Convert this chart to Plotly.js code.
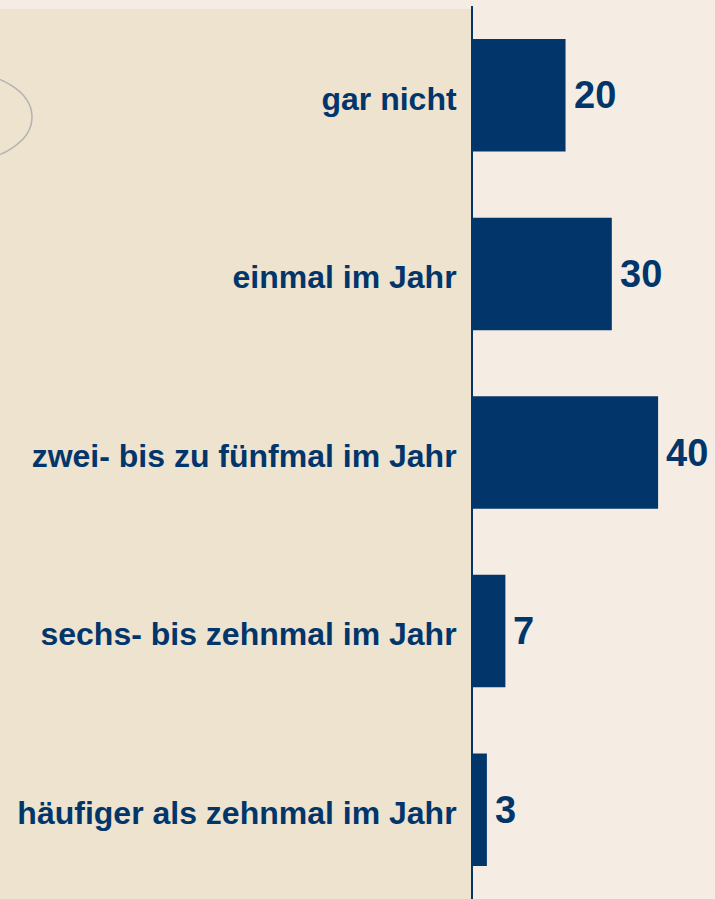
<!DOCTYPE html>
<html>
<head>
<meta charset="utf-8">
<script src="https://cdn.plot.ly/plotly-3.0.1.min.js"></script>
<style>
  html, body { margin: 0; padding: 0; background: #F5EDE3; }
  #chart { width: 715px; height: 899px; }
</style>
</head>
<body>
<div id="chart"></div>
<script>
const categories = [
  "gar nicht",
  "einmal im Jahr",
  "zwei- bis zu fünfmal im Jahr",
  "sechs- bis zehnmal im Jahr",
  "häufiger als zehnmal im Jahr"
];
const values = [20, 30, 40, 7, 3];
const valueLabels = ["20", "30", "40", "7", "3"];

const W = 715, H = 899;
const M = { l: 473, r: 0, t: 6, b: 0 };
const pw = W - M.l - M.r, ph = H - M.t - M.b;
const px2paperX = x => (x - M.l) / pw;
const px2paperY = y => 1 - (y - M.t) / ph;

const navy = "#02366B";
const font = "'Liberation Sans', Arial, Helvetica, sans-serif";

const trace = {
  type: "bar",
  orientation: "h",
  y: categories,
  x: values,
  marker: { color: navy, line: { width: 0 } },
  width: 0.63,
  hoverinfo: "none"
};

const annotations = values.map((v, i) => ({
  x: v, y: categories[i], xref: "x", yref: "y",
  text: valueLabels[i], showarrow: false,
  xanchor: "left", yanchor: "middle", xshift: 6,
  font: { family: font, size: 38, color: navy, weight: "bold" }
}));

const shapes = [
  {
    type: "rect", xref: "paper", yref: "paper", layer: "below",
    x0: px2paperX(0), x1: px2paperX(472), y0: px2paperY(H + 5), y1: px2paperY(9),
    fillcolor: "#EDE3CE", line: { width: 0 }
  },
  {
    type: "circle", xref: "paper", yref: "paper", layer: "above",
    x0: px2paperX(-112), x1: px2paperX(32), y0: px2paperY(162), y1: px2paperY(72),
    fillcolor: "rgba(0,0,0,0)", line: { color: "#B3B3B3", width: 1.5 }
  }
];

const layout = {
  width: W, height: H,
  margin: M,
  paper_bgcolor: "#F5EDE3",
  plot_bgcolor: "rgba(0,0,0,0)",
  showlegend: false,
  xaxis: {
    range: [0, 52.3],
    visible: false,
    fixedrange: true
  },
  yaxis: {
    type: "category",
    autorange: "reversed",
    showline: true, linecolor: navy, linewidth: 2,
    showgrid: false, zeroline: false,
    ticks: "", ticklabelstandoff: 8, ticklabelshift: -3,
    tickfont: { family: font, size: 32, color: navy, weight: "bold" },
    fixedrange: true
  },
  annotations: annotations,
  shapes: shapes
};

Plotly.newPlot("chart", [trace], layout, { staticPlot: true, displayModeBar: false });
</script>
</body>
</html>
